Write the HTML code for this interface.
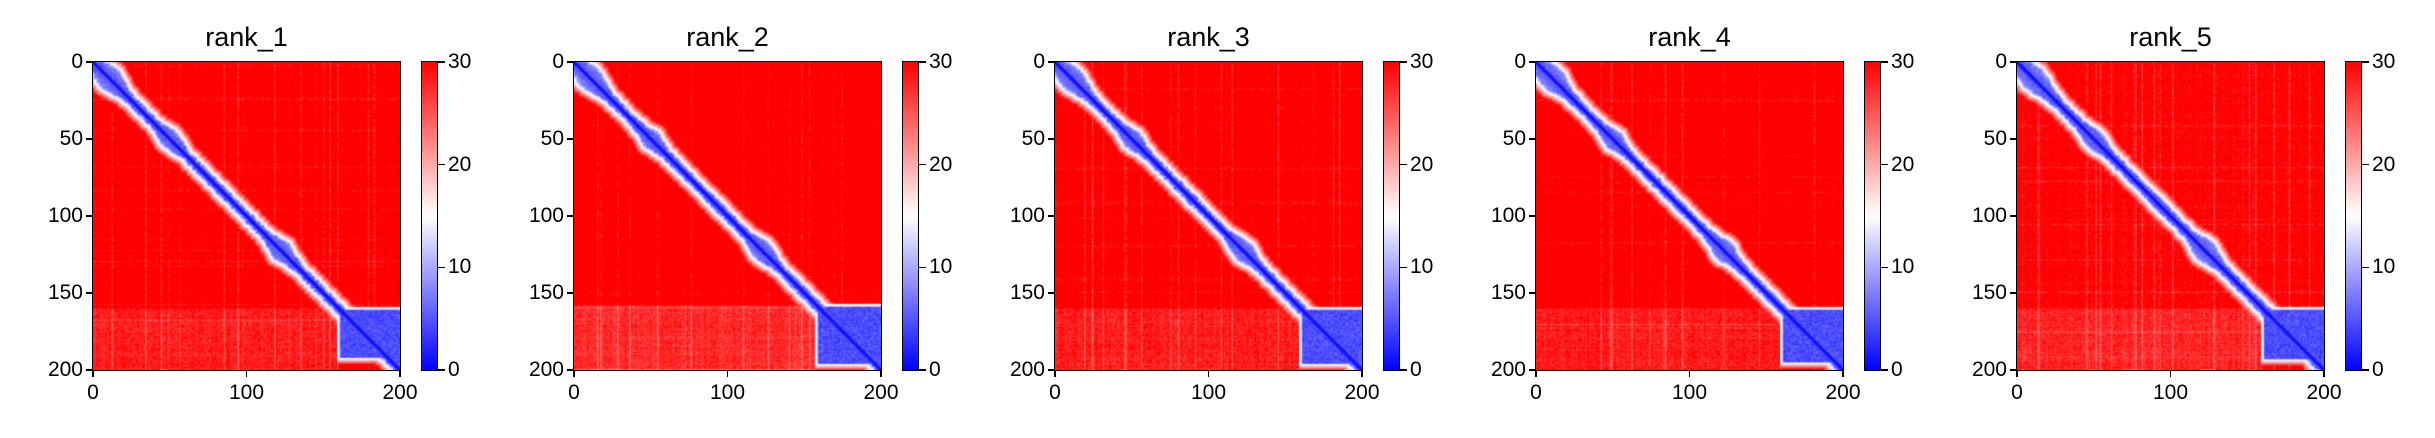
<!DOCTYPE html>
<html><head><meta charset="utf-8"><style>
body{margin:0;background:#fff;width:2435px;height:438px;overflow:hidden;position:relative;font-family:"Liberation Sans","DejaVu Sans",sans-serif;}
.abs{position:absolute}
canvas{position:absolute}
.t{position:absolute;font-size:21px;color:#000;white-space:nowrap}
.title{position:absolute;font-size:27px;color:#000;white-space:nowrap;transform:translateX(-50%)}
.line{position:absolute;background:#000}
</style></head><body>
<div id="root"></div>
<script>
const panelNames = ["rank_1","rank_2","rank_3","rank_4","rank_5"];
const axisTicks = [0,50,100,150,200];
const xTicks = [0,100,200];
const cbarTicks = [0,10,20,30];
// per-panel structure values (residue indices / PAE values)
const blockStart = [160,158,160,160,160];
const blockEnd = [191,195,195,194,192];
const blockPae = [3,3,3,3,3];
const bandWidth = [3.5,3.5,3.5,3.5,4];
const domainCenters = [10,50,122];
const domainRadius = [9,6,7];
const backgroundPae = [34,35,34,34,33];
const lowerLeftPae = [31,30,31,31,30.5];
const vmin = 0, vmax = 30, N = 200;

const PX0 = 93, PSTEP = 481, PW = 307, PY0 = 62, PH = 308;
const root = document.getElementById('root');
function sx(v){return v/N*PW;}
function sy(v){return v/N*PH;}
function cmap(v){
  let t=Math.max(0,Math.min(1,(v-vmin)/(vmax-vmin)));
  if(t<0.5){const u=t/0.5;return [Math.round(255*u),Math.round(255*u),255];}
  const u=(t-0.5)/0.5;return [255,Math.round(255*(1-u)),Math.round(255*(1-u))];
}
function hash(a,b,c){let h=(a*374761393+b*668265263+c*2147483647)|0;h=(h^(h>>>13))*1274126177|0;return ((h^(h>>>16))>>>0)/4294967295;}
function add(el,name){root.appendChild(el);return el;}
function pae(p,i,j){
  const d=Math.abs(i-j);
  let base=backgroundPae[p];
  if(i>=blockStart[p] && j<blockStart[p]) base=lowerLeftPae[p];
  const colN=hash(p,j,7), rowN=hash(p,i,13);
  base -= (colN>0.85?5*hash(p,j,11):1.5*colN) + (rowN>0.9?3*hash(p,i,17):rowN) + 3*hash(p,i*N+j,3);
  let w=bandWidth[p];
  const m=(i+j)/2;
  for(let k=0;k<domainCenters.length;k++){
    const c=domainCenters[k];
    const g=Math.exp(-Math.pow((m-c)/domainRadius[k],2));
    w=Math.max(w,bandWidth[p]+domainRadius[k]*0.7*g);
  }
  w+= (hash(p,Math.floor(m),23)-0.5)*1.5;
  let v=base;
  if(d<1.2) v=1;
  else if(d<w) v=3+d*0.4+2*hash(p,i*N+j,9);
  else v=Math.min(base,9+(d-w)*2.2);
  const bs=blockStart[p], be=blockEnd[p];
  if(i>=bs-1&&j>=bs-1){
    const edge=Math.min(i-(bs-1),j-(bs-1));
    let bv=edge<2?9+(2-edge)*3: blockPae[p]+3*hash(p,i*N+j,5);
    if(i>be && i>j+2) bv=Math.min(base,10+(i-be)*4);
    v=Math.min(v,bv);
  }
  return v;
}
for(let p=0;p<5;p++){
  const x0=PX0+p*PSTEP;
  const cv=document.createElement('canvas');
  cv.width=N;cv.height=N;
  cv.style.left=x0+'px';cv.style.top=PY0+'px';cv.style.width=PW+'px';cv.style.height=PH+'px';
  add(cv,'heatmap-'+panelNames[p]);
  const ctx=cv.getContext('2d');const img=ctx.createImageData(N,N);
  for(let i=0;i<N;i++)for(let j=0;j<N;j++){
    const c=cmap(pae(p,i,j));const o=(i*N+j)*4;
    img.data[o]=c[0];img.data[o+1]=c[1];img.data[o+2]=c[2];img.data[o+3]=255;
  }
  ctx.putImageData(img,0,0);
  const fr=document.createElement('div');fr.className='abs';
  fr.style.cssText=`left:${x0-1}px;top:${PY0-1}px;width:${PW}px;height:${PH}px;border:1.3px solid #000;`;
  add(fr,'plot-frame');
  const tt=document.createElement('div');tt.className='title';tt.textContent=panelNames[p];
  tt.style.left=(x0+PW/2)+'px';tt.style.top='22px';add(tt,'panel-title');
  axisTicks.forEach(v=>{
    const y=PY0+sy(v);
    const tk=document.createElement('div');tk.className='line';
    tk.style.cssText=`left:${x0-7}px;top:${y-0.6}px;width:7px;height:1.3px`;add(tk,'y-tick');
    const lb=document.createElement('div');lb.className='t';lb.textContent=v;
    lb.style.cssText=`right:${2435-(x0-10)}px;top:${y-12}px`;add(lb,'y-tick-label');
  });
  xTicks.forEach(v=>{
    const x=x0+sx(v);
    const tk=document.createElement('div');tk.className='line';
    tk.style.cssText=`left:${x-0.6}px;top:${PY0+PH}px;width:1.3px;height:7px`;add(tk,'x-tick');
    const lb=document.createElement('div');lb.className='t';lb.textContent=v;
    lb.style.cssText=`left:${x}px;top:${PY0+PH+11}px;transform:translateX(-50%)`;add(lb,'x-tick-label');
  });
  const cx=x0+328, cw=15;
  const cb=document.createElement('div');cb.className='abs';
  cb.style.cssText=`left:${cx}px;top:${PY0-1}px;width:${cw}px;height:${PH}px;border:1.3px solid #000;background:linear-gradient(to top,#0000ff,#ffffff,#ff0000)`;
  add(cb,'colorbar');
  cbarTicks.forEach(v=>{
    const y=PY0+PH-(v-vmin)/(vmax-vmin)*PH;
    const tk=document.createElement('div');tk.className='line';
    tk.style.cssText=`left:${cx+cw+2}px;top:${y-0.6}px;width:7px;height:1.3px`;add(tk,'colorbar-tick');
    const lb=document.createElement('div');lb.className='t';lb.textContent=v;
    lb.style.cssText=`left:${cx+cw+12}px;top:${y-12}px`;add(lb,'colorbar-tick-label');
  });
}
</script>
</body></html>
